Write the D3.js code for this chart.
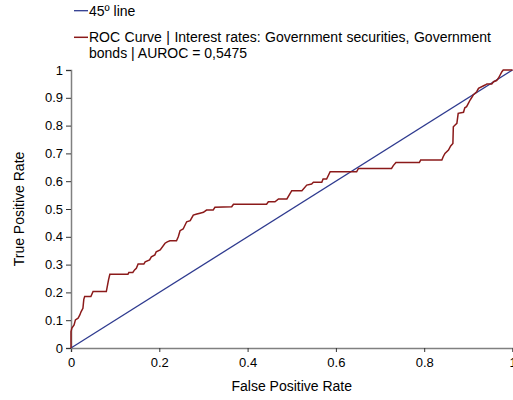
<!DOCTYPE html>
<html>
<head>
<meta charset="utf-8">
<script src="https://cdn.jsdelivr.net/npm/d3@7"></script>
<style>
  html, body { margin: 0; padding: 0; background: #fff; }
  svg { display: block; font-family: "Liberation Sans", Arial, sans-serif; }
</style>
</head>
<body>
<svg id="chart" width="513" height="400"></svg>
<script>
// ROC curve points (false positive rate, true positive rate)
const rocFpr = [0, 0, 0.002, 0.007, 0.010, 0.016, 0.020, 0.023, 0.027, 0.029, 0.031, 0.045, 0.050, 0.080,
  0.085, 0.088, 0.129, 0.131, 0.140, 0.144, 0.148, 0.152, 0.165, 0.168, 0.178, 0.182, 0.190, 0.193,
  0.202, 0.213, 0.218, 0.224, 0.239, 0.243, 0.247, 0.254, 0.262, 0.270, 0.277, 0.285, 0.292, 0.300,
  0.307, 0.322, 0.326, 0.364, 0.368, 0.443, 0.447, 0.462, 0.470, 0.489, 0.500, 0.523, 0.534, 0.545,
  0.549, 0.568, 0.571, 0.579, 0.587, 0.647, 0.651, 0.726, 0.730, 0.736, 0.789, 0.792, 0.840, 0.843,
  0.847, 0.855, 0.860, 0.865, 0.866, 0.870, 0.874, 0.877, 0.889, 0.892, 0.896, 0.900, 0.904, 0.908,
  0.911, 0.919, 0.923, 0.938, 0.942, 0.953, 0.957, 0.964, 0.968, 0.972, 0.976, 0.979, 1];
const rocTpr = [0, 0.059, 0.072, 0.083, 0.101, 0.107, 0.119, 0.131, 0.143, 0.175, 0.185, 0.185, 0.203, 0.203,
  0.245, 0.265, 0.265, 0.272, 0.272, 0.281, 0.287, 0.302, 0.302, 0.310, 0.317, 0.328, 0.335, 0.346,
  0.353, 0.377, 0.382, 0.386, 0.386, 0.400, 0.422, 0.428, 0.454, 0.458, 0.478, 0.482, 0.485, 0.488,
  0.496, 0.496, 0.506, 0.508, 0.517, 0.517, 0.526, 0.526, 0.536, 0.536, 0.566, 0.566, 0.586, 0.590,
  0.596, 0.596, 0.608, 0.608, 0.634, 0.634, 0.646, 0.646, 0.656, 0.667, 0.667, 0.676, 0.676, 0.688,
  0.700, 0.712, 0.727, 0.736, 0.796, 0.802, 0.808, 0.844, 0.848, 0.864, 0.868, 0.880, 0.892, 0.902,
  0.910, 0.922, 0.934, 0.946, 0.950, 0.950, 0.958, 0.962, 0.970, 0.982, 0.994, 1.0, 1.0];

// Reference diagonal
const diagFpr = [0, 1];
const diagTpr = [0, 1];

const xTicks = [0, 0.2, 0.4, 0.6, 0.8, 1];
const yTicks = [0, 0.1, 0.2, 0.3, 0.4, 0.5, 0.6, 0.7, 0.8, 0.9, 1];

const legendLabels = ["45º line", "ROC Curve | Interest rates: Government securities, Government", "bonds | AUROC = 0,5475"];
const rocColor = "#8b1a1a";
const diagColor = "#2e3a8f";

const svg = d3.select("#chart");
const x = d3.scaleLinear().domain([0, 1]).range([71, 512.5]);
const y = d3.scaleLinear().domain([0, 1]).range([348, 70]);

// Axes
const fmt = d => (d === 0 || d === 1) ? String(d) : d.toFixed(1);
const xAxis = svg.append("g").attr("transform", `translate(0,${y(0)})`)
  .call(d3.axisBottom(x).tickValues(xTicks).tickFormat(fmt).tickSizeOuter(0).tickSize(4));
const yAxis = svg.append("g").attr("transform", `translate(${x(0)},0)`)
  .call(d3.axisLeft(y).tickValues(yTicks).tickFormat(fmt).tickSizeOuter(0).tickSize(5));
[xAxis, yAxis].forEach(g => {
  g.select(".domain").attr("stroke", "#808080").attr("stroke-width", 1.5);
  g.selectAll(".tick line").attr("stroke", "#333");
  g.selectAll(".tick text").attr("fill", "#000").attr("font-size", 13)
    .attr("font-family", "Liberation Sans, Arial, sans-serif");
});
xAxis.selectAll(".tick text").attr("dy", "0.95em");
yAxis.selectAll(".tick text").attr("x", -8);

// Axis titles
svg.append("text").attr("x", (x(0) + x(1)) / 2).attr("y", 391).attr("text-anchor", "middle")
  .attr("font-size", 14).text("False Positive Rate");
svg.append("text").attr("transform", `translate(24,${(y(0) + y(1)) / 2}) rotate(-90)`)
  .attr("text-anchor", "middle").attr("font-size", 14).text("True Positive Rate");

// Lines
const line = d3.line().x(d => x(d[0])).y(d => y(d[1]));
svg.append("path").datum(d3.zip(diagFpr, diagTpr)).attr("d", line)
  .attr("fill", "none").attr("stroke", diagColor).attr("stroke-width", 1.3);
svg.append("path").datum(d3.zip(rocFpr, rocTpr)).attr("d", line)
  .attr("fill", "none").attr("stroke", rocColor).attr("stroke-width", 1.5);

// Legend
const leg = svg.append("g").attr("font-size", 14);
leg.append("line").attr("x1", 74).attr("x2", 88).attr("y1", 10.7).attr("y2", 10.7)
  .attr("stroke", diagColor).attr("stroke-width", 1.3);
leg.append("text").attr("x", 89).attr("y", 15.5).text(legendLabels[0]);
leg.append("line").attr("x1", 74).attr("x2", 88).attr("y1", 37.3).attr("y2", 37.3)
  .attr("stroke", rocColor).attr("stroke-width", 1.5);
// first wrapped line is justified to the legend width
const justified = leg.append("text").attr("x", 89).attr("y", 42).text(legendLabels[1]);
const natural = justified.node().getComputedTextLength();
const gaps = legendLabels[1].split(" ").length - 1;
justified.attr("word-spacing", Math.max(0, (402 - natural) / gaps));
leg.append("text").attr("x", 89).attr("y", 58).text(legendLabels[2]);
</script>
</body>
</html>
